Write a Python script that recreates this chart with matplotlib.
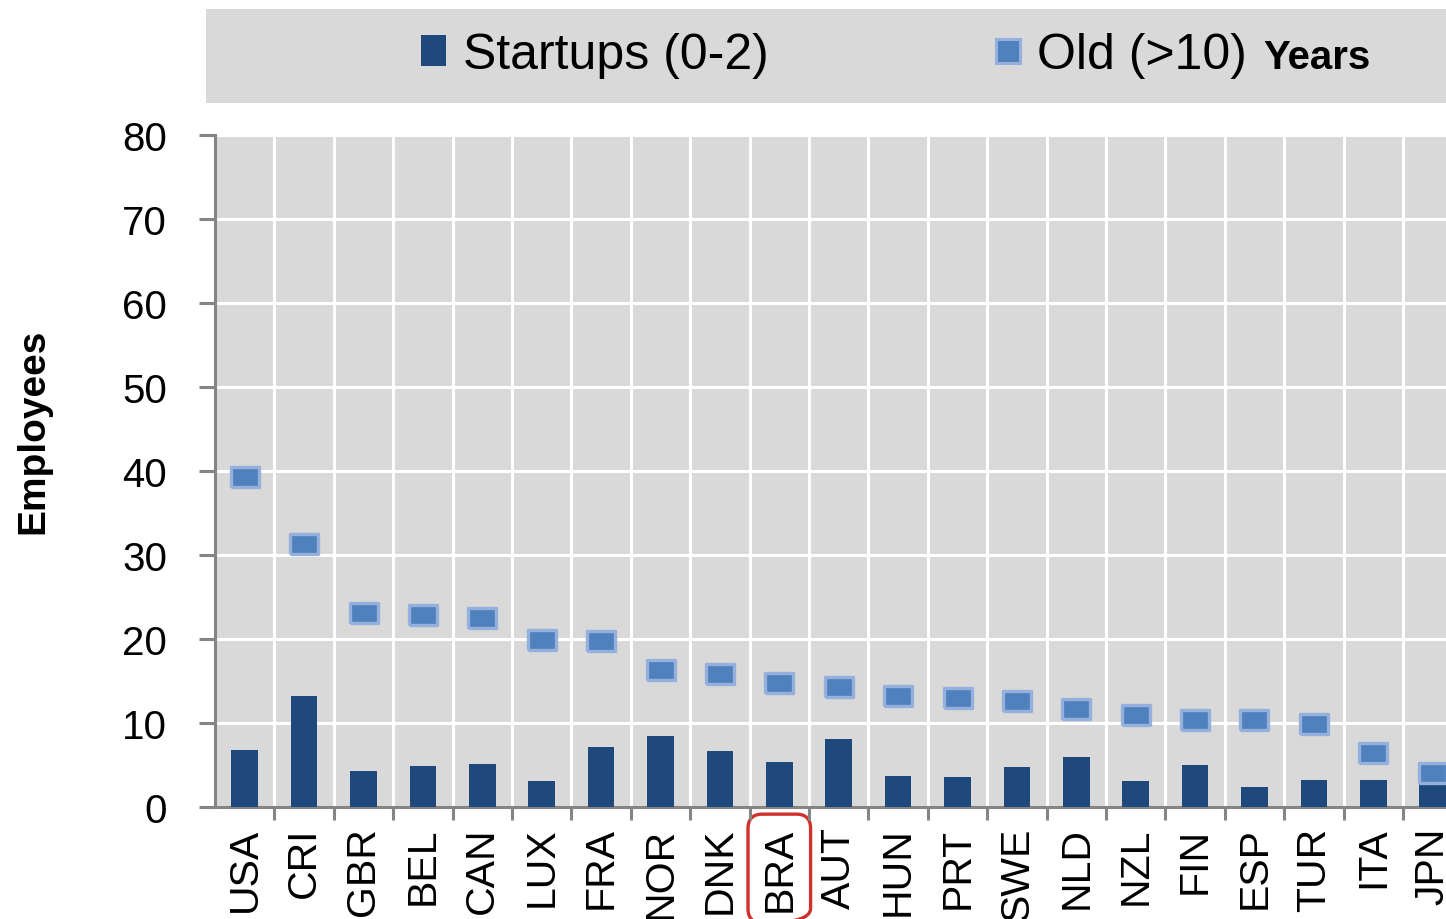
import matplotlib
matplotlib.use('Agg')
import matplotlib.pyplot as plt
from matplotlib.patches import Rectangle, Patch
from matplotlib.lines import Line2D
import numpy as np

countries = ['USA', 'CRI', 'GBR', 'BEL', 'CAN', 'LUX', 'FRA', 'NOR', 'DNK', 'BRA', 'AUT',
             'HUN', 'PRT', 'SWE', 'NLD', 'NZL', 'FIN', 'ESP', 'TUR', 'ITA', 'JPN']
startups = [6.8, 13.2, 4.3, 4.9, 5.1, 3.1, 7.1, 8.4, 6.7, 5.4, 8.1,
            3.7, 3.6, 4.8, 6.0, 3.1, 5.0, 2.4, 3.2, 3.2, 2.9]
old_firms = [39.3, 31.3, 23.1, 22.9, 22.5, 19.9, 19.8, 16.3, 15.8, 14.8, 14.3,
             13.2, 13.0, 12.6, 11.7, 11.0, 10.4, 10.4, 9.9, 6.4, 4.0]
yticks = [0, 10, 20, 30, 40, 50, 60, 70, 80]
highlight = 'BRA'

dark = '#1F497D'
mid = '#4F81BD'
edge = '#95B0DC'
plot_bg = '#D9D9D9'
spine = '#858585'

plt.rcParams['font.family'] = ['Liberation Sans', 'DejaVu Sans']

W, H = 1446, 920
fig = plt.figure(figsize=(W / 100, H / 100), dpi=100)

# grey legend band across the top
fig.patches.append(Rectangle((206 / W, 1 - 104 / H), 1.0, 94 / H,
                             transform=fig.transFigure, facecolor=plot_bg,
                             edgecolor='none', zorder=0))

step = 59.4
ax = fig.add_axes([215 / W, 1 - 808 / H, 21 * step / W, 672 / H])
ax.set_facecolor(plot_bg)

x = np.arange(len(countries))
ax.bar(x, startups, width=0.45, color=dark, zorder=3)

rect = [(-1.36, -1), (1.36, -1), (1.36, 1), (-1.36, 1), (-1.36, -1)]
ax.plot(x, old_firms, linestyle='none', marker=rect, markersize=20,
        markerfacecolor=mid, markeredgecolor=edge, markeredgewidth=2.4, zorder=4)

ax.set_xlim(-0.5, len(countries) - 0.5)
ax.set_ylim(0, 80)
ax.set_yticks(yticks)
ax.set_xticks(x)
ax.set_xticklabels(countries, rotation=90, fontsize=29.5)
ax.set_xticks(x[:-1] + 0.5, minor=True)

ax.grid(False)
for v in x[:-1] + 0.5:
    ax.axvline(v, color='white', lw=2.2, zorder=1)
for v in yticks[1:]:
    ax.axhline(v, color='white', lw=2.2, zorder=1)

for s in ['top', 'right']:
    ax.spines[s].set_visible(False)
for s in ['left', 'bottom']:
    ax.spines[s].set_color(spine)
    ax.spines[s].set_linewidth(2.2)

ax.tick_params(axis='y', direction='out', length=11.5, width=2.2, color=spine,
               labelsize=29, pad=23)
ax.tick_params(axis='x', which='major', length=0, pad=14)
ax.tick_params(axis='x', which='minor', direction='out', length=9, width=2.2, color=spine)

ax.set_ylabel('Employees', fontsize=28, fontweight='bold')
ax.yaxis.set_label_coords(-0.131, 0.56)

for lbl in ax.get_xticklabels():
    if lbl.get_text() == highlight:
        lbl.set_bbox(dict(boxstyle='round,pad=0.3,rounding_size=0.35',
                          facecolor='none', edgecolor='#D0312D', linewidth=2.4))

handles = [Patch(facecolor=dark, edgecolor='none'),
           Line2D([], [], linestyle='none', marker='s', markersize=17,
                  markerfacecolor=mid, markeredgecolor=edge, markeredgewidth=2.2)]
fig.legend(handles, ['Startups (0-2)', 'Old (>10)'], ncol=2, frameon=False,
           loc='center left', bbox_to_anchor=(421 / W, 1 - 56 / H),
           fontsize=36, handlelength=0.5, handleheight=0.6, handletextpad=0.33,
           columnspacing=4.55, borderpad=0, borderaxespad=0)
fig.text(1263 / W, 1 - 58 / H, 'Years', fontsize=29, fontweight='bold',
         ha='left', va='center')

fig.savefig('out.png', dpi=100)
